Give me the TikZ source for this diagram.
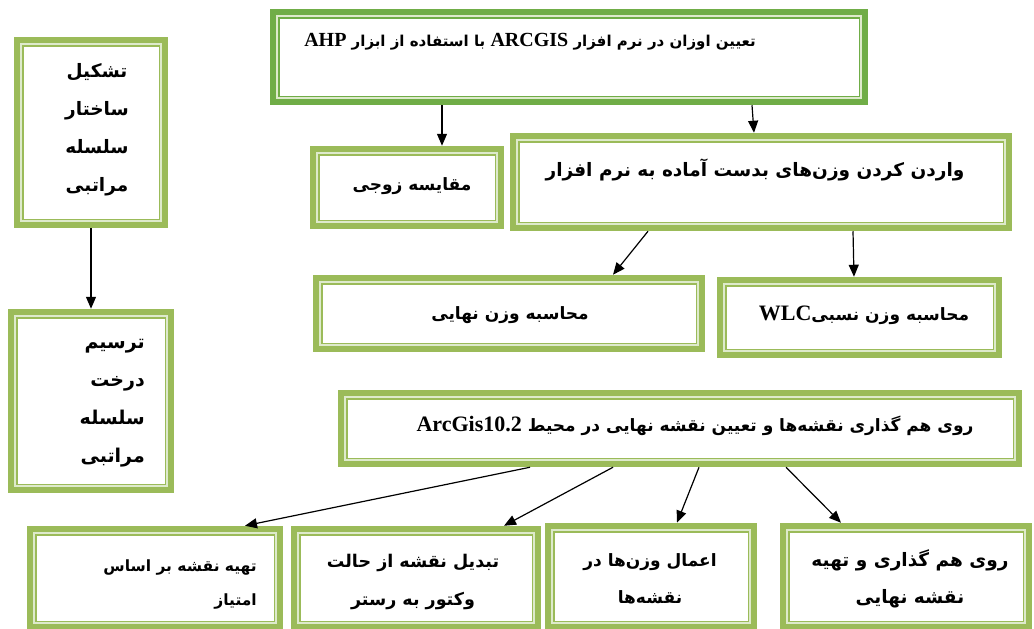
\documentclass[tikz,border=0pt]{standalone}
\usepackage{fontspec}
\usetikzlibrary{arrows.meta}
\TeXXeTstate=1
\newfontfamily\fa[Script=Arabic]{DejaVu Sans}
\newfontfamily\lat{Liberation Serif}
\definecolor{topgreen}{RGB}{112,173,71}
\definecolor{boxgreen}{RGB}{155,187,89}
\definecolor{palegreen}{RGB}{222,234,204}
\newcommand{\rl}[1]{\beginR #1\endR}
\newcommand{\en}[2][22]{\beginL{\lat\bfseries\fontsize{#1}{#1}\selectfont #2}\endL}
\newcommand{\fsz}[2]{\fa\bfseries\fontsize{#1}{#2}\selectfont}

\begin{document}
\begin{tikzpicture}[x=1pt,y=-1pt]
\tikzstyle{gbox}=[draw=boxgreen, line width=6.5pt, fill=white, inner sep=0pt]
\tikzstyle{txt}=[font=\fsz{17}{20}, inner sep=0pt]
\tikzstyle{arr}=[-{Triangle[length=12pt,width=10pt]}, line width=1.2pt, black]
\useasboundingbox (0,0) rectangle (1034,629);

% boxes
\node[gbox, draw=topgreen, minimum width=592pt, minimum height=90pt] (weights) at (569,57) {};
\node[gbox, minimum width=148pt, minimum height=185pt] (build) at (91,132.5) {};
\node[gbox, minimum width=160pt, minimum height=178pt] (tree) at (91,401) {};
\node[gbox, minimum width=188pt, minimum height=77pt] (pair) at (407,187.5) {};
\node[gbox, minimum width=496pt, minimum height=92pt] (enter) at (761,182) {};
\node[gbox, minimum width=386pt, minimum height=71pt] (final) at (509,313.5) {};
\node[gbox, minimum width=279pt, minimum height=75pt] (wlc) at (859.5,317.5) {};
\node[gbox, minimum width=678pt, minimum height=71pt] (overlay) at (680,428.5) {};
\node[gbox, minimum width=250pt, minimum height=98pt] (score) at (155,578) {};
\node[gbox, minimum width=244pt, minimum height=98pt] (raster) at (416,578) {};
\node[gbox, minimum width=206pt, minimum height=101pt] (apply) at (651,576.5) {};
\node[gbox, minimum width=246pt, minimum height=101pt] (result) at (906,576.5) {};

% inner frames
\foreach \n/\c in {weights/topgreen, build/boxgreen, tree/boxgreen, pair/boxgreen,
  enter/boxgreen, final/boxgreen, wlc/boxgreen, overlay/boxgreen,
  score/boxgreen, raster/boxgreen, apply/boxgreen, result/boxgreen} {
  \draw[palegreen, line width=2pt] ([shift={(7.25pt,7.25pt)}]\n.south west) rectangle ([shift={(-7.25pt,-7.25pt)}]\n.north east);
  \draw[\c, line width=1.5pt] ([shift={(9pt,9pt)}]\n.south west) rectangle ([shift={(-9pt,-9pt)}]\n.north east);
}

% texts
\node[txt, font=\fsz{15}{18}] (weights-t) at (530,42) {\rl{تعیین اوزان در نرم افزار \en[20]{ARCGIS} با استفاده از ابزار \en[20]{AHP}}};
\node[txt, font=\fsz{18.5}{38}, align=center] (build-t) at (97,130) {\rl{تشکیل}\\\rl{ساختار}\\\rl{سلسله}\\\rl{مراتبی}};
\node[txt, font=\fsz{19}{38}, align=right, anchor=east] (tree-t) at (145,403) {\rl{ترسیم}\\\rl{درخت}\\\rl{سلسله}\\\rl{مراتبی}};
\node[txt] (pair-t) at (412,186) {\rl{مقایسه زوجی}};
\node[txt, font=\fsz{18.5}{20}] (enter-t) at (755,170) {\rl{واردن کردن وزن‌های بدست آماده به نرم افزار}};
\node[txt] (final-t) at (510,315) {\rl{محاسبه وزن نهایی}};
\node[txt] (wlc-t) at (864,315) {\rl{محاسبه وزن نسبی\en{WLC}}};
\node[txt] (overlay-t) at (695,426) {\rl{روی هم گذاری نقشه‌ها و تعیین نقشه نهایی در محیط \en{ArcGis10.2}}};
\node[txt, font=\fsz{15.5}{34}, align=right, anchor=east] (score-t) at (257,584) {\rl{تهیه نقشه بر اساس}\\\rl{امتیاز}};
\node[txt, font=\fsz{17.5}{38}, align=center] (raster-t) at (413,582) {\rl{تبدیل نقشه از حالت}\\\rl{وکتور به رستر}};
\node[txt, font=\fsz{17}{37}, align=center] (apply-t) at (650,579) {\rl{اعمال وزن‌ها در}\\\rl{نقشه‌ها}};
\node[txt, font=\fsz{18.5}{37}, align=center] (result-t) at (910,579) {\rl{روی هم گذاری و تهیه}\\\rl{نقشه نهایی}};

% arrows
\draw[arr] (build.south) -- (tree.north);
\draw[arr] ([xshift=-127pt]weights.south) -- ([xshift=35pt]pair.north);
\draw[arr] ([xshift=183pt]weights.south) -- ([xshift=-7pt]enter.north);
\draw[arr] ([xshift=-113pt]enter.south) -- ([xshift=104pt]final.north);
\draw[arr] ([xshift=92pt]enter.south) -- ([xshift=-5.5pt]wlc.north);
\draw[arr] ([xshift=-150pt]overlay.south) -- ([xshift=90pt]score.north);
\draw[arr] ([xshift=-67pt]overlay.south) -- ([xshift=88pt]raster.north);
\draw[arr] ([xshift=19pt]overlay.south) -- ([xshift=26pt]apply.north);
\draw[arr] ([xshift=106pt]overlay.south) -- ([xshift=-65pt]result.north);
\end{tikzpicture}
\end{document}
